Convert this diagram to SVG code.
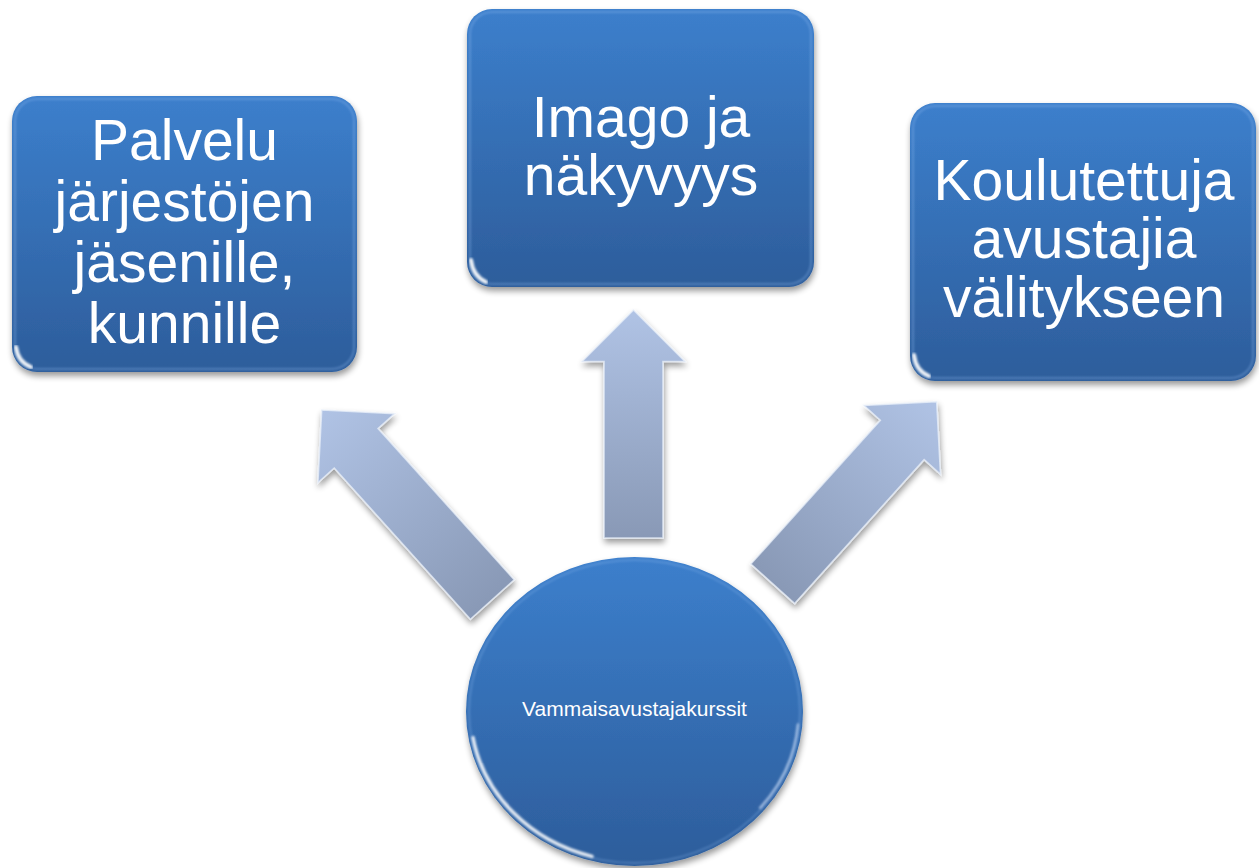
<svg xmlns="http://www.w3.org/2000/svg" width="1259" height="868" viewBox="0 0 1259 868">
  <style>
    .box { fill: url(#boxFill); }
    .rim { fill: none; stroke: #8fbaf0; stroke-width: 2; stroke-opacity: 0.35; filter: url(#soft); }
    .topline { fill: none; stroke: url(#topGlow); stroke-width: 3; filter: url(#soft); }
    .glare { fill: none; stroke: #ffffff; stroke-width: 4; stroke-linecap: round; stroke-opacity: 0.9; filter: url(#soft); }
    .big { font-family: "Liberation Sans", Arial, sans-serif; font-size: 57px; fill: #ffffff; text-anchor: middle; }
    .small { font-family: "Liberation Sans", Arial, sans-serif; font-size: 21px; fill: #ffffff; text-anchor: middle; }
    .arrow { fill: url(#arrowFill); stroke: #eaf0fa; stroke-width: 1.6; stroke-opacity: 0.75; stroke-linejoin: miter; }
  </style>
  <defs>
    <linearGradient id="boxFill" x1="0" y1="0" x2="0" y2="1">
      <stop offset="0" stop-color="#3c7fcc"/>
      <stop offset="1" stop-color="#2d5d9b"/>
    </linearGradient>
    <linearGradient id="arrowFill" x1="0" y1="0" x2="0" y2="1">
      <stop offset="0" stop-color="#b0c3e5"/>
      <stop offset="1" stop-color="#8999b6"/>
    </linearGradient>
    <linearGradient id="topGlow" x1="0" y1="0" x2="1" y2="0">
      <stop offset="0" stop-color="#9cc4f2" stop-opacity="0"/>
      <stop offset="0.15" stop-color="#9cc4f2" stop-opacity="0.55"/>
      <stop offset="0.85" stop-color="#9cc4f2" stop-opacity="0.55"/>
      <stop offset="1" stop-color="#9cc4f2" stop-opacity="0"/>
    </linearGradient>
    <filter id="shadow" x="-10%" y="-10%" width="125%" height="125%">
      <feGaussianBlur in="SourceAlpha" stdDeviation="3"/>
      <feOffset dx="1" dy="4" result="off"/>
      <feComponentTransfer><feFuncA type="linear" slope="0.4"/></feComponentTransfer>
      <feMerge><feMergeNode/><feMergeNode in="SourceGraphic"/></feMerge>
    </filter>
    <filter id="soft" x="-10%" y="-10%" width="120%" height="120%">
      <feGaussianBlur stdDeviation="1.2"/>
    </filter>
    <clipPath id="circleClip">
      <ellipse cx="634.5" cy="711.5" rx="168.5" ry="154.5"/>
    </clipPath>
  </defs>

  <!-- connectors: three block arrows from the course circle -->
  <g id="connectors">
    <g filter="url(#shadow)">
      <polygon class="arrow" transform="translate(321.7 410) rotate(-42)" points="0,0 51.5,51.5 29.5,51.5 29.5,255 -29.5,255 -29.5,51.5 -51.5,51.5"/>
    </g>
    <g filter="url(#shadow)">
      <polygon class="arrow" transform="translate(633.5 310)" points="0,0 51.5,51.5 29.5,51.5 29.5,228 -29.5,228 -29.5,51.5 -51.5,51.5"/>
    </g>
    <g filter="url(#shadow)">
      <polygon class="arrow" transform="translate(936.7 401.7) rotate(42)" points="0,0 51.5,51.5 29.5,51.5 29.5,245 -29.5,245 -29.5,51.5 -51.5,51.5"/>
    </g>
  </g>

  <!-- left box -->
  <g id="palvelu">
    <rect class="box" x="12" y="96" width="345" height="276" rx="25" filter="url(#shadow)"/>
    <rect class="rim" x="15" y="99" width="339" height="270" rx="22"/>
    <line class="topline" x1="30" y1="101" x2="340" y2="101"/>
    <path class="glare" d="M16 347 Q18 362 31 367"/>
    <text class="big" x="184.5" y="160">Palvelu</text>
    <text class="big" x="184.5" y="221">järjestöjen</text>
    <text class="big" x="184.5" y="282">jäsenille,</text>
    <text class="big" x="184.5" y="343">kunnille</text>
  </g>

  <!-- middle box -->
  <g id="imago">
    <rect class="box" x="467" y="9" width="347" height="278" rx="25" filter="url(#shadow)"/>
    <rect class="rim" x="470" y="12" width="341" height="272" rx="22"/>
    <line class="topline" x1="485" y1="14" x2="797" y2="14"/>
    <path class="glare" d="M471 260 Q473 276 486 282"/>
    <text class="big" x="641" y="137">Imago ja</text>
    <text class="big" x="641" y="195">näkyvyys</text>
  </g>

  <!-- right box -->
  <g id="koulutettuja">
    <rect class="box" x="910" y="103" width="346" height="278" rx="25" filter="url(#shadow)"/>
    <rect class="rim" x="913" y="106" width="340" height="272" rx="22"/>
    <line class="topline" x1="928" y1="108" x2="1240" y2="108"/>
    <path class="glare" d="M914 355 Q916 371 929 376"/>
    <text class="big" x="1084" y="200">Koulutettuja</text>
    <text class="big" x="1084" y="258">avustajia</text>
    <text class="big" x="1084" y="317">välitykseen</text>
  </g>

  <!-- centre circle -->
  <g id="vammaisavustajakurssit">
    <ellipse class="box" cx="634.5" cy="711.5" rx="168.5" ry="154.5" filter="url(#shadow)"/>
    <g clip-path="url(#circleClip)">
      <ellipse cx="634.5" cy="711.5" rx="165.5" ry="151.5" fill="none" stroke="#8fbaf0" stroke-width="2" stroke-opacity="0.3" filter="url(#soft)"/>
      <path d="M473 737.6 A164 150 0 0 0 592 856.4" fill="none" stroke="#ffffff" stroke-width="3.5" stroke-opacity="0.85" stroke-linecap="round" filter="url(#soft)"/>
      <path d="M760.1 807.9 A164 150 0 0 0 797.9 724.6" fill="none" stroke="#dceaff" stroke-width="2.5" stroke-opacity="0.6" stroke-linecap="round" filter="url(#soft)"/>
    </g>
    <text class="small" x="634.5" y="716">Vammaisavustajakurssit</text>
  </g>
</svg>
